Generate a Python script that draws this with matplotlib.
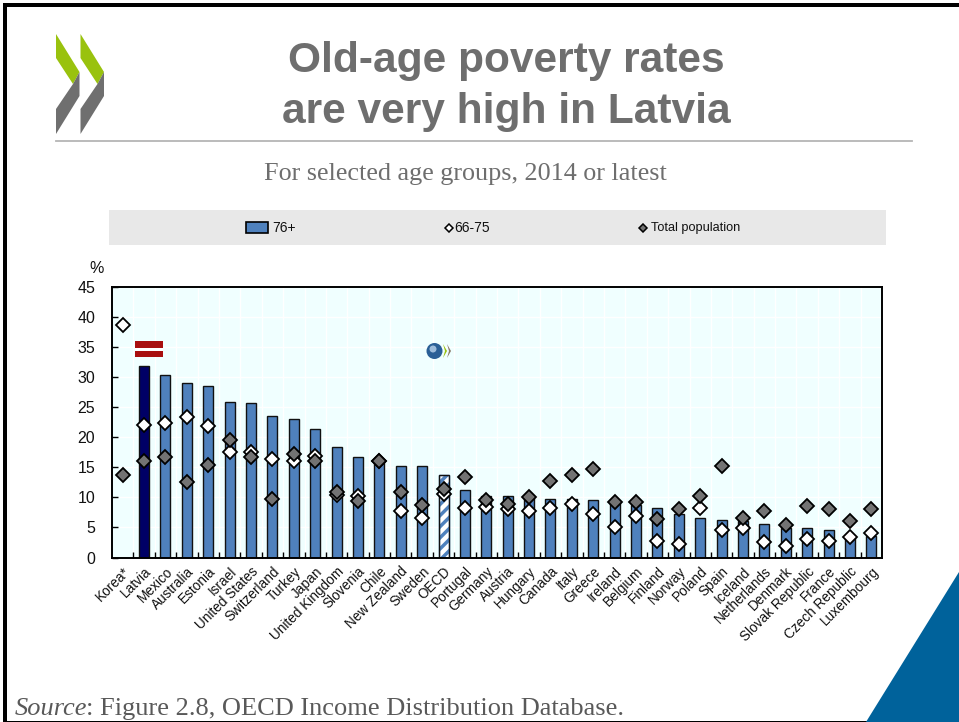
import numpy as np
import matplotlib
matplotlib.use('Agg')
from matplotlib import pyplot as plt
from matplotlib.markers import MarkerStyle
from matplotlib.patches import Polygon, Rectangle, Circle

countries = ['Korea*', 'Latvia', 'Mexico', 'Australia', 'Estonia', 'Israel', 'United States',
             'Switzerland', 'Turkey', 'Japan', 'United Kingdom', 'Slovenia', 'Chile', 'New Zealand',
             'Sweden', 'OECD', 'Portugal', 'Germany', 'Austria', 'Hungary', 'Canada', 'Italy',
             'Greece', 'Ireland', 'Belgium', 'Finland', 'Norway', 'Poland', 'Spain', 'Iceland',
             'Netherlands', 'Denmark', 'Slovak Republic', 'France', 'Czech Republic', 'Luxembourg']
age_76 = [0, 31.8, 30.3, 29.1, 28.6, 25.9, 25.7, 23.6, 23.1, 21.3, 18.4, 16.7, 16.1, 15.2,
          15.2, 13.8, 11.2, 10.3, 10.2, 9.9, 9.8, 9.8, 9.5, 9.3, 8.8, 8.3, 7.2, 6.6, 6.3, 6.0,
          5.5, 4.9, 4.9, 4.6, 3.5, 3.5]
age_66_75 = [38.6, 22.1, 22.4, 23.3, 21.9, 17.6, 17.6, 16.4, 16.1, 16.9, 10.4, 10.2, 16.1, 7.7,
             6.6, 10.5, 8.3, 8.4, 8.1, 7.8, 8.3, 8.9, 7.2, 5.1, 6.9, 2.8, 2.3, 8.3, 4.6, 4.9,
             2.6, 1.9, 3.1, 2.8, 3.4, 4.1]
total_pop = [13.7, 16.1, 16.7, 12.6, 15.4, 19.6, 16.7, 9.7, 17.2, 16.1, 10.9, 9.4, 16.1, 10.9,
             8.8, 11.4, 13.4, 9.6, 8.9, 10.1, 12.7, 13.8, 14.7, 9.2, 9.2, 6.4, 8.1, 10.3, 15.3,
             6.6, 7.8, 5.4, 8.6, 8.1, 6.0, 8.1]
y_ticks = [0, 5, 10, 15, 20, 25, 30, 35, 40, 45]

W, H = 959, 722
sans = 'Liberation Sans'
serif = 'Liberation Serif'
BLUE = '#4f81bd'
GREY = '#737373'
TXT = '#111111'
plt.rcParams['hatch.linewidth'] = 2.5

fig = plt.figure(figsize=(W / 100, H / 100), dpi=100)

# whole slide in pixel coordinates, for the title, logo and legend band
ov = fig.add_axes([0, 0, 1, 1])
ov.set_xlim(0, W)
ov.set_ylim(H, 0)
ov.axis('off')

ov.add_patch(Rectangle((3.3, 3.3), W, 3.3, color='black', lw=0))
ov.add_patch(Rectangle((3.3, 3.3), 3.3, H, color='black', lw=0))
ov.add_patch(Rectangle((3.3, H - 1.5), W, 1.5, color='black', lw=0))
ov.add_patch(Polygon([(866, H), (W, 572), (W, H)], color='#00629b', lw=0))

for dx in (0, 24.5):
    ov.add_patch(Polygon([(56 + dx, 34), (79.5 + dx, 72), (73 + dx, 84), (56 + dx, 58)], color='#99c20e', lw=0))
    ov.add_patch(Polygon([(79.5 + dx, 72), (79.5 + dx, 96), (56 + dx, 134), (56 + dx, 109), (73 + dx, 84)],
                         color='#6f6f6f', lw=0))
ov.plot([56, 912], [141, 141], color='#b5b5b5', lw=1.3)

ov.text(506, 61, 'Old-age poverty rates', ha='center', va='center', fontsize=30.6, fontweight='bold',
        color='#6e6e6e', family=sans)
ov.text(506, 112, 'are very high in Latvia', ha='center', va='center', fontsize=30.6, fontweight='bold',
        color='#6e6e6e', family=sans)
ov.text(465, 174, 'For selected age groups, 2014 or latest', ha='center', va='center', fontsize=18.8,
        color='#6e6e6e', family=serif)
ov.text(15, 709, 'Source', ha='left', va='center', fontsize=19, style='italic', color='#595959',
        family=serif)
ov.text(86, 709, ': Figure 2.8, OECD Income Distribution Database.', ha='left', va='center', fontsize=19,
        color='#595959', family=serif)

diamond = MarkerStyle('D', joinstyle='miter')

# legend band
ov.add_patch(Rectangle((109, 210), 777, 35, color='#e8e8e8', lw=0))
ov.add_patch(Rectangle((245.5, 222), 22, 11, facecolor=BLUE, edgecolor='black', lw=1.2))
ov.text(272, 227.5, '76+', va='center', fontsize=10, family=sans, color=TXT)
ov.plot([449], [227.5], marker=diamond, ms=4.5, mfc='white', mec='black', mew=1.1)
ov.text(454, 227.5, '66-75', va='center', fontsize=10, family=sans, color=TXT)
ov.plot([643], [227.5], marker=diamond, ms=4.5, mfc=GREY, mec='black', mew=1.1)
ov.text(651, 227.5, 'Total population', va='center', fontsize=9.2, family=sans, color=TXT)

# chart
ax = fig.add_axes([112 / W, 1 - 557.5 / H, 770 / W, 270.5 / H])
x = np.arange(len(countries))
oecd = countries.index('OECD')
ax.set_facecolor('#f0ffff')
ax.set_axisbelow(True)
ax.grid(True, which='major', axis='y', color='white', lw=1)
ax.grid(True, which='minor', axis='x', color='white', lw=1)

bars = ax.bar(x, age_76, width=0.47, color=BLUE, edgecolor='#111111', lw=1)
bars[1].set_facecolor('#000066')
# hatch takes the edge colour, so the OECD outline is a second bar on top
bars[oecd].set_facecolor('white')
bars[oecd].set_edgecolor(BLUE)
bars[oecd].set_hatch('///')
ax.bar(x[oecd], age_76[oecd], width=0.47, fill=False, edgecolor='#111111', lw=1)

ax.plot(x, age_66_75, ls='none', marker=diamond, ms=7, mfc='white', mec='black', mew=1.3)
ax.plot(x, total_pop, ls='none', marker=diamond, ms=7, mfc=GREY, mec='black', mew=1.3)

ax.set_xlim(-0.5, len(countries) - 0.5)
ax.set_ylim(0, 45)
ax.set_yticks(y_ticks)
ax.set_xticks(x)
ax.set_xticks(x[:-1] + 0.5, minor=True)
ax.set_xticklabels(countries, rotation=45, ha='right', va='top', rotation_mode='anchor',
                   family=sans, fontsize=9.8, color=TXT)
for lab in ax.get_yticklabels():
    lab.set_family(sans)
    lab.set_fontsize(11.5)
    lab.set_color(TXT)
ax.tick_params(axis='x', which='major', length=0, pad=5)
ax.tick_params(axis='x', which='minor', direction='in', length=4, width=1, color='black')
ax.tick_params(axis='y', direction='in', length=4, width=1, pad=12)
for s in ax.spines.values():
    s.set_linewidth(1.4)
    s.set_color('black')
ax.text(-1.24, 48.1, '%', ha='center', va='center', fontsize=11.5, family=sans, color=TXT)

# Latvian flag and OECD globe sit on top of the plot area
ov2 = fig.add_axes([0, 0, 1, 1], facecolor='none')
ov2.set_xlim(0, W)
ov2.set_ylim(H, 0)
ov2.axis('off')
ov2.add_patch(Rectangle((135, 341), 28, 6.5, color='#a80f0f', lw=0))
ov2.add_patch(Rectangle((135, 347.5), 28, 3, color='white', lw=0))
ov2.add_patch(Rectangle((135, 350.5), 28, 6.5, color='#a80f0f', lw=0))
ov2.add_patch(Circle((434.5, 351), 8, color='#2a5f96', lw=0))
ov2.add_patch(Circle((433, 349), 3.5, color='#9dbcdb', lw=0))
ov2.add_patch(Polygon([(443, 344), (447, 351), (443, 358), (445, 351)], color='#99c20e', lw=0))
ov2.add_patch(Polygon([(447, 344), (451, 351), (447, 358), (449, 351)], color='#8a7a68', lw=0))

fig.savefig('out.png', dpi=100)
